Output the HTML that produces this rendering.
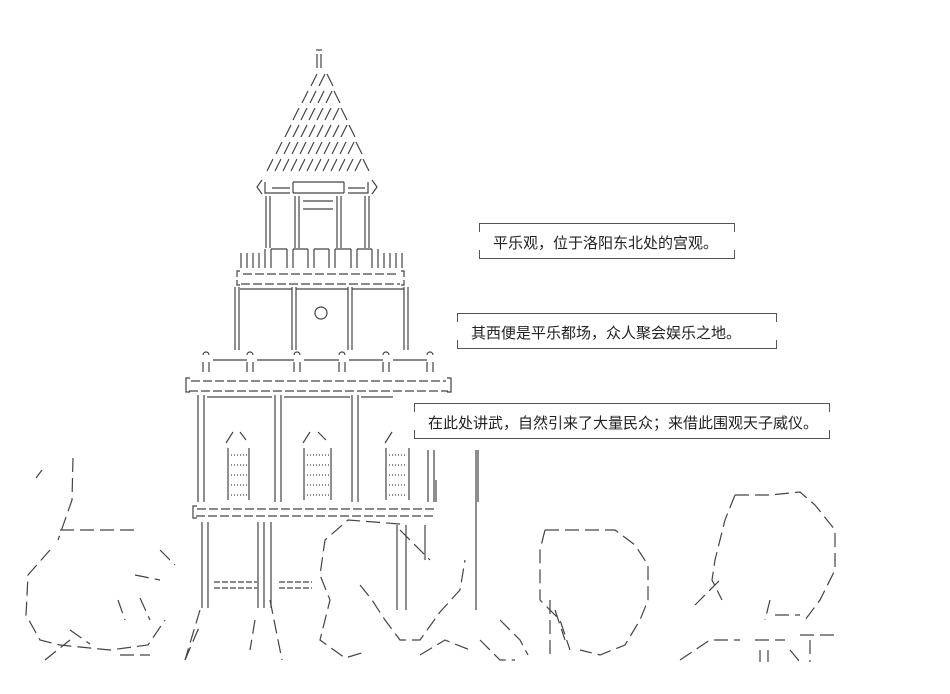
<!DOCTYPE html>
<html><head><meta charset="utf-8"><style>
html,body{margin:0;padding:0;background:#fff;}
body{width:950px;height:694px;position:relative;overflow:hidden;font-family:"Liberation Sans","Noto Sans CJK SC",sans-serif;}
.box{position:absolute;font-size:15px;color:#222;white-space:nowrap;}
.box:before,.box:after{content:"";position:absolute;left:0;right:0;height:8px;border-left:1px solid #555;border-right:1px solid #555;}
.box:before{top:0;border-top:1px solid #555;}
.box:after{bottom:0;border-bottom:1px solid #555;}
</style></head><body>
<svg width="950" height="694" style="position:absolute;left:0;top:0" stroke="#444" stroke-width="1.2" fill="none">
<!-- spire -->
<line x1="316" y1="50" x2="322" y2="50"/><line x1="317" y1="54" x2="317" y2="68"/><line x1="321" y1="54" x2="321" y2="68"/>
<!-- roof -->
<path d="M319 86L325 74 M311 86L317 74 M327 74L333 86
M326 103L332 91 M318 103L324 91 M310 103L316 91 M302 103L308 91 M334 91L340 103
M333 120L339 108 M325 120L331 108 M317 120L323 108 M309 120L315 108 M301 120L307 108 M293 120L299 108 M341 108L347 120
M341 137L347 125 M333 137L339 125 M325 137L331 125 M317 137L323 125 M309 137L315 125 M301 137L307 125 M293 137L299 125 M285 137L291 125 M349 125L355 137
M348 154L354 142 M340 154L346 142 M332 154L338 142 M324 154L330 142 M316 154L322 142 M308 154L314 142 M300 154L306 142 M292 154L298 142 M284 154L290 142 M276 154L282 142 M356 142L362 154
M355 171L361 159 M347 171L353 159 M339 171L345 159 M331 171L337 159 M323 171L329 159 M315 171L321 159 M307 171L313 159 M299 171L305 159 M291 171L297 159 M283 171L289 159 M275 171L281 159 M267 171L273 159 M363 159L369 171"/>
<!-- eave -->
<path d="M262 180 L257 187 L262 194"/><path d="M372 180 L377 187 L372 194"/>
<path d="M265 182 V193 H290 M272 188 H290 M293 182 V193 M293 182 H344 M293 193 H344 M344 182 V193 M348 188 H365 M348 193 H368 V182"/>
<!-- upper columns -->
<g><line x1="266" y1="196" x2="266" y2="248"/><line x1="270" y1="196" x2="270" y2="248"/>
<line x1="295" y1="196" x2="295" y2="248"/><line x1="299" y1="196" x2="299" y2="248"/>
<line x1="337" y1="196" x2="337" y2="248"/><line x1="341" y1="196" x2="341" y2="248"/>
<line x1="365" y1="196" x2="365" y2="248"/><line x1="369" y1="196" x2="369" y2="248"/>
<path d="M303 201 H333 M303 209 H333"/></g>
<!-- band -->
<g><path d="M241 253 V268 M247 253 V268 M253 253 V268 M259 253 V268 M265 249 V268 M271 249 V268 M287 249 V268 M293 249 V268 M308 249 V268 M314 249 V268 M329 249 V268 M335 249 V268 M351 249 V268 M357 249 V268 M372 249 V268 M378 249 V268 M384 253 V268 M390 253 V268 M396 253 V268 M402 253 V268"/>
<path d="M271 249 H287 M293 249 H308 M314 249 H329 M335 249 H351 M357 249 H372"/>
<path d="M240 271 L237 271 V285 H240 M401 271 H404 V285 H401 M243 274 H398 M241 284 H400" stroke-dasharray="9 3"/></g>
<!-- middle floor -->
<g><path d="M235 287 V350 M239 287 V350 M292 287 V350 M296 287 V350 M348 287 V350 M352 287 V350 M404 287 V350 M408 287 V350"/>
<path d="M240 289 H292 M296 289 H348 M352 289 H404"/>
<circle cx="321" cy="313" r="6"/>
<path d="M203 355 a3 3 0 0 1 6 0 M247 355 a3 3 0 0 1 6 0 M294 355 a3 3 0 0 1 6 0 M339 355 a3 3 0 0 1 6 0 M383 355 a3 3 0 0 1 6 0 M427 355 a3 3 0 0 1 6 0"/>
<path d="M203 362 V372 M209 362 V372 M247 362 V372 M253 362 V372 M294 362 V372 M300 362 V372 M339 362 V372 M345 362 V372 M383 362 V372 M389 362 V372 M427 362 V372 M433 362 V372"/>
<path d="M213 360 H247 M257 360 H294 M304 360 H339 M349 360 H383 M393 360 H427"/>
<path d="M190 378 H186 V392 H190 M447 378 H451 V392 H447"/>
<path d="M191 381 H446 M189 391 H448" stroke-dasharray="9 3"/></g>
<!-- lower floor -->
<g><path d="M198 395 V502 M204 395 V502 M275 395 V502 M281 395 V502 M352 395 V502 M358 395 V502 M428 450 V502 M434 450 V502 M436 480 V502 M478 450 V502"/>
<path d="M207 397 H272 M284 397 H350 M361 397 H393"/>
<path d="M226 443 L233 432 M240 432 L246 440 M303 443 L310 432 M318 432 L326 440 M385 443 L392 432"/>
<path d="M228 448 V500 M249 448 V500 M304 448 V500 M331 448 V500 M386 448 V500 M409 448 V500"/>
<path d="M231 455 H247 M231 465 H247 M231 475 H247 M231 485 H247 M231 495 H247 M307 455 H329 M307 465 H329 M307 475 H329 M307 485 H329 M307 495 H329 M389 455 H407 M389 465 H407 M389 475 H407 M389 485 H407 M389 495 H407" stroke-dasharray="1 2"/>
<path d="M197 506 H193 V518 H197"/>
<path d="M197 509 H436 M196 516 H436" stroke-dasharray="9 3"/></g>
<!-- below -->
<g><path d="M202 522 V608 M208 522 V608 M258 522 V608 M264 522 V608 M271 522 V608 M397 525 V610 M406 525 V610 M425 525 V560 M476 450 V610"/>
<path d="M214 582 H257 M214 588 H257 M279 582 H312 M279 588 H312" stroke-dasharray="6 2"/></g>
<!-- left head -->
<g stroke-dasharray="14 6"><path d="M42 470 L36 478 M73 458 L72 500 L58 540 M50 550 L28 575 L26 615 L40 640 L60 645 L110 650 L148 645 L165 620 M160 550 L175 565 M60 530 H140"/>
<path d="M70 630 L90 644 M45 660 L70 640 M120 655 H150 M185 660 L200 625 M135 575 L160 580 M118 600 L125 620 M140 598 L150 620"/></g>
<!-- middle head -->
<g stroke-dasharray="14 6"><path d="M400 524 L348 520 L325 540 L320 575 L330 600 L320 640 L345 658 L365 652 M360 585 L372 600 L385 620 L400 640 H420 L440 612 L460 590 L465 560 M400 530 L430 560"/>
<path d="M255 620 L250 650 M270 600 L282 660 M200 610 L185 660 M420 655 L445 640 L470 650 M480 640 L500 660 H515"/></g>
<!-- right heads -->
<g stroke-dasharray="14 6"><path d="M545 530 L540 550 L540 600 L560 620 L570 650 M545 530 H615 L635 545 L648 565 L648 600 L640 620 L625 645 L600 655 L580 650 M555 610 L565 640"/>
<path d="M500 620 L520 640 L528 655 M550 600 L550 660"/>
<path d="M735 495 L725 520 L715 560 L712 580 L722 600 M735 495 H770 L800 492 L815 505 L835 530 L835 570 L820 600 L805 620 M775 615 H800 M770 600 L765 620"/>
<path d="M695 605 L720 580 M680 660 L710 640 H740 M755 640 H785 M760 650 V662 M768 650 V662 M790 650 L800 662 M800 635 H840 M810 640 V662"/></g>
</svg>
<div class="box" style="left:479px;top:223px;width:256px;height:36px;"><span style="position:absolute;left:14px;top:9px">平乐观，位于洛阳东北处的宫观。</span></div>
<div class="box" style="left:457px;top:313px;width:320px;height:36px;"><span style="position:absolute;left:14px;top:9px">其西便是平乐都场，众人聚会娱乐之地。</span></div>
<div class="box" style="left:414px;top:403px;width:416px;height:36px;"><span style="position:absolute;left:14px;top:9px">在此处讲武，自然引来了大量民众；来借此围观天子威仪。</span></div>
</body></html>
